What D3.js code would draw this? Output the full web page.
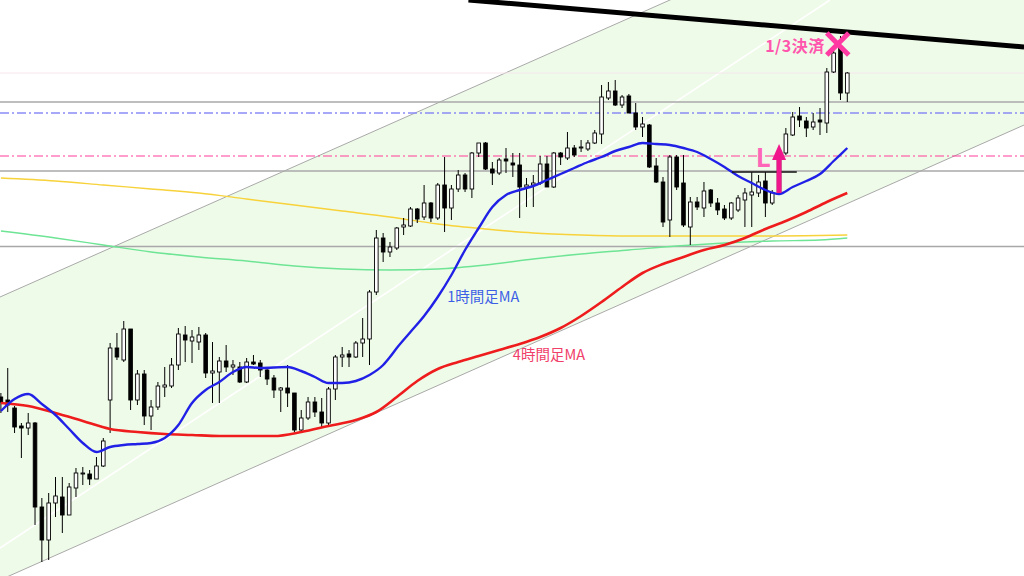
<!DOCTYPE html>
<html><head><meta charset="utf-8">
<script src="https://cdn.jsdelivr.net/npm/d3@7"></script>
<style>html,body{margin:0;padding:0;background:#fff;overflow:hidden}</style>
</head><body><svg id="c" width="1024" height="576"></svg>
<script>
// ---- data (price units, candle index) ----
const opens=[156.03,156.00,155.92,155.74,155.72,155.77,154.93,154.60,154.97,155.03,154.85,155.12,155.26,155.26,155.21,155.34,156.00,156.52,156.40,156.71,156.00,156.26,155.84,155.93,156.13,156.14,156.35,156.65,156.59,156.58,156.65,156.27,156.28,156.39,156.33,156.33,156.18,156.38,156.37,156.30,156.22,156.10,156.12,156.07,155.70,155.82,155.98,155.88,155.77,156.11,156.43,156.46,156.43,156.57,156.61,157.08,157.62,157.48,157.52,157.73,157.74,157.91,157.83,157.97,157.82,158.15,157.92,158.11,158.25,158.11,158.47,158.57,158.31,158.27,158.41,158.37,158.35,158.13,158.15,158.17,158.36,158.13,158.47,158.42,158.52,158.52,158.51,158.57,158.66,159.02,159.09,158.95,159.04,158.87,158.73,158.75,158.34,158.18,157.80,158.43,158.17,157.73,157.98,157.92,158.10,157.97,157.91,157.82,157.90,158.00,158.05,158.07,158.19,157.97,158.07,158.47,158.65,158.84,158.79,158.73,158.80,158.77,159.28,159.53,159.07];
const highs=[156.07,156.32,155.94,155.77,155.87,155.78,155.02,155.07,155.23,155.23,155.17,155.32,155.33,155.30,155.43,155.62,156.57,156.67,156.79,156.71,156.30,156.30,156.00,156.18,156.33,156.42,156.72,156.74,156.70,156.73,156.67,156.58,156.43,156.55,156.40,156.38,156.42,156.45,156.40,156.33,156.25,156.13,156.35,156.07,155.90,156.03,156.03,156.02,156.13,156.45,156.53,156.50,156.59,156.82,157.10,157.70,157.67,157.58,157.73,157.82,157.93,157.92,158.15,157.98,158.17,158.43,158.15,158.30,158.27,158.48,158.57,158.58,158.38,158.42,158.52,158.47,158.47,158.22,158.25,158.44,158.44,158.48,158.48,158.68,158.55,158.60,158.60,158.70,159.15,159.18,159.20,159.05,159.06,158.97,158.83,158.76,158.42,158.23,158.45,158.45,158.45,158.03,158.03,158.18,158.11,158.02,157.95,157.98,158.05,158.12,158.28,158.25,158.28,158.10,158.50,158.72,158.88,158.93,158.83,158.87,158.92,159.32,159.50,159.64,159.28];
const lows=[155.87,155.88,155.67,155.42,155.65,154.75,154.38,154.40,154.83,154.67,154.85,155.03,155.15,155.15,155.21,155.33,155.67,156.40,156.38,155.90,155.95,155.75,155.70,155.90,156.03,156.12,156.30,156.38,156.37,156.50,156.22,155.97,155.97,156.28,156.25,156.17,156.17,156.35,156.23,156.15,156.02,155.88,155.93,155.68,155.67,155.80,155.83,155.73,155.73,156.00,156.33,156.33,156.42,156.43,156.35,157.05,157.38,157.43,157.50,157.65,157.73,157.77,157.80,157.78,157.80,157.68,157.80,158.08,158.08,158.02,158.43,158.30,158.15,158.25,158.27,158.23,157.82,157.93,157.93,158.15,158.13,158.12,158.35,158.40,158.43,158.48,158.49,158.56,158.56,159.00,158.94,158.92,158.87,158.70,158.63,158.32,158.17,157.73,157.63,158.10,157.73,157.55,157.90,157.83,157.93,157.85,157.80,157.80,157.88,157.73,157.73,158.03,157.83,157.95,158.05,158.45,158.64,158.73,158.63,158.70,158.65,158.67,159.27,159.00,158.98];
const closes=[155.98,155.95,155.73,155.72,155.77,154.93,154.60,154.97,155.04,154.85,155.13,155.27,155.27,155.21,155.34,155.59,156.52,156.43,156.71,156.00,156.26,155.84,155.93,156.14,156.15,156.35,156.66,156.60,156.63,156.65,156.27,156.29,156.39,156.33,156.35,156.18,156.38,156.36,156.30,156.21,156.10,156.12,156.07,155.70,155.82,155.98,155.88,155.77,156.11,156.43,156.45,156.43,156.57,156.61,157.08,157.62,157.48,157.53,157.72,157.75,157.91,157.81,157.97,157.82,158.15,157.92,158.11,158.25,158.11,158.47,158.57,158.31,158.27,158.40,158.39,158.35,158.13,158.15,158.17,158.36,158.13,158.47,158.43,158.52,158.45,158.53,158.57,158.67,159.03,159.09,158.95,159.03,158.87,158.73,158.76,158.33,158.18,157.78,158.43,158.13,157.75,157.98,157.93,158.09,157.97,157.90,157.82,157.97,158.02,158.07,158.08,158.18,157.97,158.07,158.45,158.66,158.83,158.80,158.72,158.78,158.78,159.28,159.47,159.07,159.27];

const ma1h=[[0,155.89],[2,156.01],[4,156.06],[6,155.96],[8,155.85],[10,155.71],[12,155.57],[14,155.48],[16,155.53],[18,155.55],[20,155.56],[22,155.57],[24,155.62],[26,155.75],[28,155.97],[30,156.10],[32,156.18],[34,156.28],[36,156.33],[38,156.32],[42,156.33],[44,156.29],[46,156.23],[48,156.17],[50,156.17],[52,156.19],[54,156.25],[56,156.35],[57,156.43],[58,156.52],[60,156.68],[62,156.84],[64,157.03],[66,157.25],[68,157.50],[70,157.72],[72,157.93],[74,158.05],[76,158.10],[78,158.14],[80,158.20],[82,158.26],[84,158.32],[86,158.38],[88,158.43],[90,158.49],[92,158.53],[94,158.57],[96,158.56],[98,158.55],[100,158.52],[102,158.48],[104,158.41],[106,158.33],[108,158.24],[110,158.17],[112,158.10],[114,158.06],[116,158.13],[118,158.19],[120,158.26],[122,158.39],[124,158.52]];
const ma4h=[[0,155.97],[4,155.94],[8,155.87],[12,155.79],[16,155.71],[20,155.68],[24,155.66],[28,155.65],[32,155.64],[36,155.64],[40,155.64],[44,155.68],[48,155.74],[52,155.80],[55,155.88],[58,156.03],[61,156.19],[64,156.31],[67,156.38],[70,156.44],[73,156.50],[76,156.56],[79,156.63],[82,156.72],[85,156.84],[88,156.98],[91,157.13],[94,157.27],[97,157.36],[100,157.43],[103,157.50],[106,157.55],[109,157.62],[112,157.71],[115,157.79],[118,157.88],[121,157.98],[124,158.07]];
const maLongYellow=[[0,158.22],[8,158.19],[15,158.15],[22,158.11],[29,158.07],[36,158.01],[43,157.95],[50,157.89],[57,157.83],[64,157.76],[71,157.71],[78,157.67],[85,157.65],[92,157.64],[99,157.64],[106,157.64],[113,157.64],[120,157.645],[124,157.65]];
const maLongGreen=[[0,157.69],[8,157.62],[15,157.55],[22,157.48],[29,157.43],[36,157.39],[43,157.34],[50,157.31],[57,157.30],[64,157.31],[71,157.35],[78,157.41],[85,157.46],[92,157.50],[99,157.54],[106,157.57],[113,157.59],[120,157.60],[124,157.62]];

const greyLevels=[158.98,158.29,157.535];
const blueLevel=158.87;
const pinkLevel=158.44;
const faintLevel=159.27;
const channelUpper=[[-0.13,157.03],[149.9,161.57]];
const channelLower=[[-0.13,154.20],[149.9,158.75]];
const midTrend=[[-0.13,154.52],[121.46,160.00]];
const resistTrend=[[68.5,160.00],[149.9,159.53]];
const neckline=[[107.1,158.28],[116.6,158.28]];
const exitMark={i:122.6,p:159.56,label:"1/3決済"};
const entryMark={i:114,from:158.07,to:158.56,label:"L",labelI:111.7,labelP:158.33};
const maLabels=[{text:"1時間足MA",i:65.4,p:156.98},{text:"4時間足MA",i:75.0,p:156.40}];

// ---- scales ----
const W=1024,H=576;
const x=d3.scaleLinear().domain([0,124]).range([0.9,847.3]);
const y=d3.scaleLinear().domain([154.24,160.00]).range([H,0]);
const svg=d3.select("#c");
svg.append("rect").attr("width",W).attr("height",H).attr("fill","#fff");

// channel fill
const poly=[channelUpper[0],channelUpper[1],channelLower[1],channelLower[0]];
svg.append("path").attr("d","M"+poly.map(d=>x(d[0])+","+y(d[1])).join("L")+"Z").attr("fill","#effbe9");

const seg=(pts,stroke,w,dash)=>{
  const l=svg.append("line").attr("x1",x(pts[0][0])).attr("y1",y(pts[0][1])).attr("x2",x(pts[1][0])).attr("y2",y(pts[1][1]))
    .attr("stroke",stroke).attr("stroke-width",w);
  if(dash) l.attr("stroke-dasharray",dash);
  return l;
};
seg(midTrend,"#ffffff",1.6);
seg(channelUpper,"#a9a9a9",1);
seg(channelLower,"#a9a9a9",1);

const hline=(p,stroke,w,dash)=>{
  const l=svg.append("line").attr("x1",0).attr("x2",W).attr("y1",y(p)).attr("y2",y(p)).attr("stroke",stroke).attr("stroke-width",w);
  if(dash) l.attr("stroke-dasharray",dash);
};
hline(faintLevel,"#f6e6ec",1);
greyLevels.forEach(p=>hline(p,"#a8a8a8",1.4));
hline(blueLevel,"#8a8cf5",1.4,"9,3,2,3");
hline(pinkLevel,"#ff3d9a",1.2,"9,3,2,3");

const lineGen=d3.line().x(d=>x(d[0])).y(d=>y(d[1])).curve(d3.curveMonotoneX);
svg.append("path").attr("d",lineGen(maLongYellow)).attr("fill","none").attr("stroke","#f7d23a").attr("stroke-width",1.4);
svg.append("path").attr("d",lineGen(maLongGreen)).attr("fill","none").attr("stroke","#6ee495").attr("stroke-width",1.4);

// candles
const idx=d3.range(opens.length);
const g=svg.append("g");
g.selectAll("line.w").data(idx).join("line").attr("class","w")
  .attr("x1",i=>x(i)).attr("x2",i=>x(i)).attr("y1",i=>y(highs[i])).attr("y2",i=>y(lows[i]))
  .attr("stroke","#000").attr("stroke-width",1);
const bw=3.6;
g.selectAll("rect.b").data(idx).join("rect").attr("class","b")
  .attr("x",i=>x(i)-bw/2).attr("width",bw)
  .attr("y",i=>Math.min(y(opens[i]),y(closes[i])))
  .attr("height",i=>Math.max(0.8,Math.abs(y(opens[i])-y(closes[i]))))
  .attr("fill",i=>closes[i]>=opens[i]?"#fff":"#000")
  .attr("stroke","#000").attr("stroke-width",0.9);

// MAs
svg.append("path").attr("d",lineGen(ma4h)).attr("fill","none").attr("stroke","#ee1c1c").attr("stroke-width",2.6);
svg.append("path").attr("d",lineGen(ma1h)).attr("fill","none").attr("stroke","#2020e6").attr("stroke-width",2.4);

// labels
const font="'Noto Sans CJK JP','Noto Sans',sans-serif";
svg.append("text").attr("x",x(maLabels[0].i)).attr("y",y(maLabels[0].p)).text(maLabels[0].text)
  .attr("font-family",font).attr("font-size",14.5).attr("fill","#3c5fe6");
svg.append("text").attr("x",x(maLabels[1].i)).attr("y",y(maLabels[1].p)).text(maLabels[1].text)
  .attr("font-family",font).attr("font-size",14.5).attr("fill","#f0406a");

// resistance trend line
seg(resistTrend,"#000",5);
seg(neckline,"#111",1.6);

// entry arrow
const ax=x(entryMark.i), ay1=y(entryMark.from), ay2=y(entryMark.to);
svg.append("line").attr("x1",ax).attr("x2",ax).attr("y1",ay1).attr("y2",ay2+14).attr("stroke","#f0168c").attr("stroke-width",5);
svg.append("path").attr("d",`M${ax},${ay2}L${ax-7},${ay2+16}L${ax+7},${ay2+16}Z`).attr("fill","#f0168c");
svg.append("text").attr("x",x(entryMark.labelI)).attr("y",y(entryMark.labelP)).text(entryMark.label)
  .attr("text-anchor","middle").attr("font-family",font).attr("font-weight","bold").attr("font-size",26).attr("fill","#ff66b8");

// exit mark
const ex=x(exitMark.i), ey=y(exitMark.p), r=11;
svg.append("path").attr("d",`M${ex-r},${ey-r}L${ex+r},${ey+r}M${ex+r},${ey-r}L${ex-r},${ey+r}`)
  .attr("stroke","#ff3aa2").attr("stroke-width",5);
svg.append("text").attr("x",ex-13).attr("y",ey+8).text(exitMark.label).attr("text-anchor","end")
  .attr("font-family",font).attr("font-weight","bold").attr("font-size",16).attr("letter-spacing",0.5).attr("fill","#ff55ad");
</script></body></html>
